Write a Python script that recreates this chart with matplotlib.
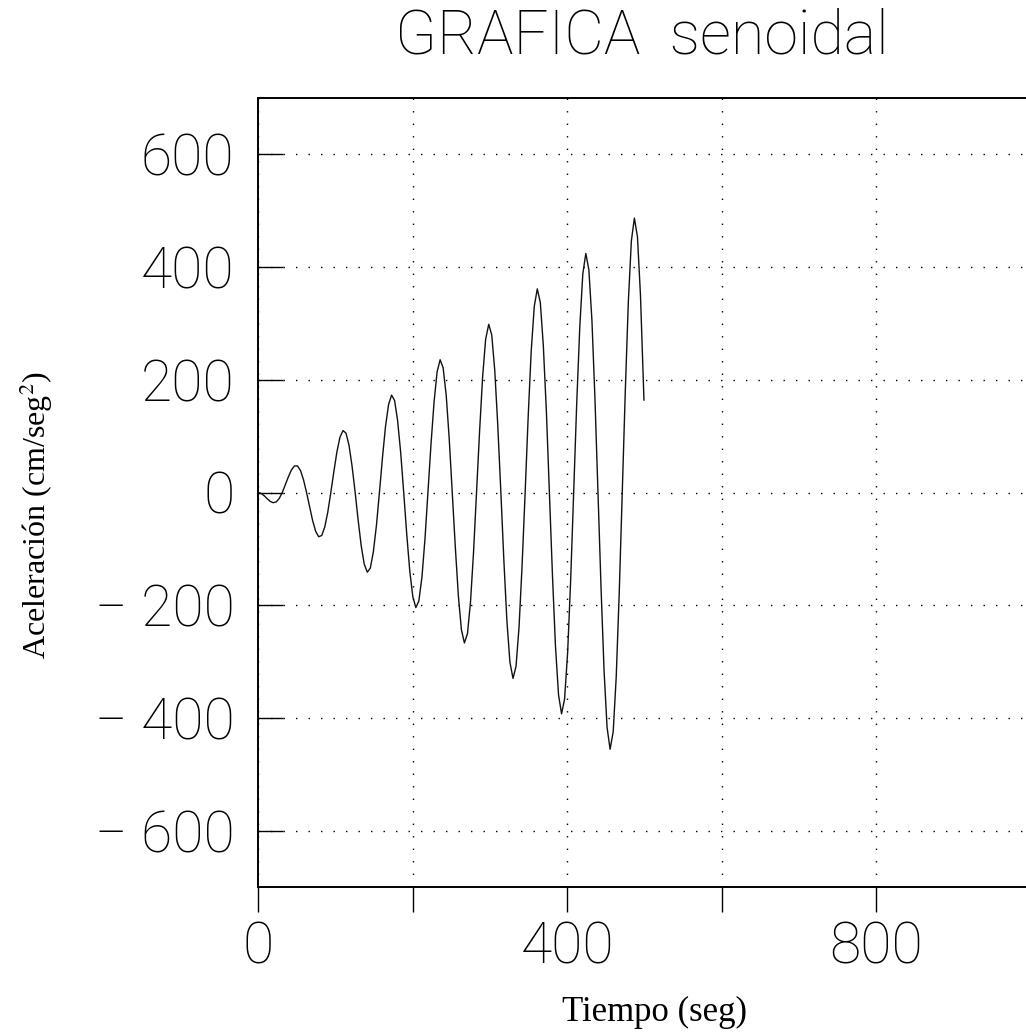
import matplotlib.pyplot as plt

plt.rcParams['mathtext.fontset'] = 'stix'

# tiempo (seg) y aceleracion (cm/seg^2)
tiempo = [
    0.0, 3.9, 7.9, 11.8, 15.7, 19.6, 23.6, 27.5, 31.4, 35.3, 39.3, 43.2, 47.1, 51.1, 55.0, 58.9,
    62.8, 66.8, 70.7, 74.6, 78.5, 82.5, 86.4, 90.3, 94.2, 98.2, 102.1, 106.0, 110.0, 113.9, 117.8, 121.7,
    125.7, 129.6, 133.5, 137.4, 141.4, 145.3, 149.2, 153.2, 157.1, 161.0, 164.9, 168.9, 172.8, 176.7, 180.6, 184.6,
    188.5, 192.4, 196.3, 200.3, 204.2, 208.1, 212.1, 216.0, 219.9, 223.8, 227.8, 231.7, 235.6, 239.5, 243.5, 247.4,
    251.3, 255.3, 259.2, 263.1, 267.0, 271.0, 274.9, 278.8, 282.7, 286.7, 290.6, 294.5, 298.5, 302.4, 306.3, 310.2,
    314.2, 318.1, 322.0, 325.9, 329.9, 333.8, 337.7, 341.6, 345.6, 349.5, 353.4, 357.4, 361.3, 365.2, 369.1, 373.1,
    377.0, 380.9, 384.8, 388.8, 392.7, 396.6, 400.6, 404.5, 408.4, 412.3, 416.3, 420.2, 424.1, 428.0, 432.0, 435.9,
    439.8, 443.8, 447.7, 451.6, 455.5, 459.5, 463.4, 467.3, 471.2, 475.2, 479.1, 483.0, 486.9, 490.9, 494.8, 498.7,
    499.3,
]
aceleracion = [
    0.0, -1.5, -5.6, -10.9, -15.7, -18.1, -16.7, -10.5, 0.0, 13.5, 27.8, 39.9, 47.1, 47.2, 38.9, 22.5,
    0.0, -25.5, -50.0, -68.9, -78.5, -76.2, -61.1, -34.6, 0.0, 37.6, 72.2, 98.0, 110.0, 105.2, 83.3, 46.6,
    0.0, -49.6, -94.4, -127.0, -141.4, -134.2, -105.5, -58.6, 0.0, 61.6, 116.6, 156.0, 172.8, 163.3, 127.7, 70.6,
    0.0, -73.6, -138.8, -185.0, -204.2, -192.3, -149.9, -82.7, 0.0, 85.7, 161.1, 214.1, 235.6, 221.3, 172.2, 94.7,
    0.0, -97.7, -183.3, -243.1, -267.0, -250.3, -194.4, -106.7, 0.0, 109.7, 205.5, 272.1, 298.5, 279.4, 216.6, 118.7,
    0.0, -121.7, -227.7, -301.1, -329.9, -308.4, -238.8, -130.7, 0.0, 133.7, 249.9, 330.2, 361.3, 337.4, 261.0, 142.8,
    0.0, -145.8, -272.1, -359.2, -392.7, -366.4, -283.2, -154.8, 0.0, 157.8, 294.3, 388.2, 424.1, 395.5, 305.4, 166.8,
    0.0, -169.8, -316.6, -417.2, -455.5, -424.5, -327.7, -178.8, 0.0, 181.8, 338.8, 446.2, 486.9, 453.5, 349.9, 190.9,
    164.0,
]

x_ticks = [0, 200, 400, 600, 800, 1000]
x_labels = ['0', '', '400', '', '800', '']
y_ticks = [-600, -400, -200, 0, 200, 400, 600]
y_labels = ['\u2212 600', '\u2212 400', '\u2212 200', '0', '200', '400', '600']

W, H = 1026, 1034
fig = plt.figure(figsize=(W / 100, H / 100), dpi=100)
fig.patch.set_facecolor('white')

# los ejes se salen un poco por la derecha, como en el original
ax = fig.add_axes([258 / W, 1 - 887 / H, (1031 - 258) / W, (887 - 98) / H])
ax.plot(tiempo, aceleracion, color='#111111', lw=1.0)

ax.set_xlim(0, 1000)
ax.set_ylim(-700, 700)
ax.set_xticks(x_ticks)
ax.set_xticklabels(x_labels)
ax.set_yticks(y_ticks)
ax.set_yticklabels(y_labels)

for lab in ax.get_xticklabels() + ax.get_yticklabels():
    lab.set_fontfamily(['Roboto', 'DejaVu Sans'])
    lab.set_fontweight(100)
    lab.set_fontsize(41)

ax.tick_params(axis='x', direction='out', length=18, width=1.0, pad=6, colors='black')
ax.tick_params(axis='y', direction='in', length=18, width=1.0, pad=17, colors='black')

ax.grid(True, color='black', linestyle=(0, (1, 8)), linewidth=1.0)

for s in ['left', 'top', 'bottom']:
    ax.spines[s].set_linewidth(1.4)
    ax.spines[s].set_color('black')
ax.spines['right'].set_visible(False)

fig.text(642 / W, 1 - 36 / H, 'GRAFICA  senoidal', ha='center', va='center',
         fontsize=44, fontfamily=['Roboto', 'DejaVu Sans'], fontweight=100)

fig.text(655 / W, 1 - 1021 / H, 'Tiempo (seg)', ha='center', va='baseline',
         fontsize=25, fontfamily=['Liberation Serif', 'DejaVu Serif'])
fig.text(36 / W, 1 - 515 / H, 'Aceleración (cm/seg$^2$)', ha='center', va='center',
         rotation=90, fontsize=23, fontfamily=['Liberation Serif', 'DejaVu Serif'])

fig.savefig('out.png', dpi=100, facecolor='white')
